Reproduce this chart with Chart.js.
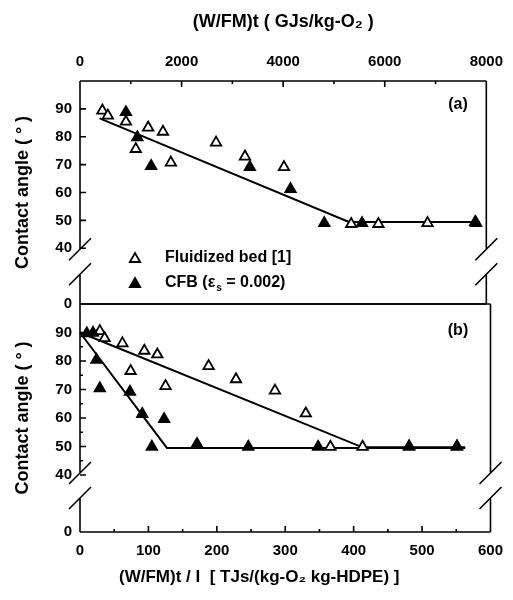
<!DOCTYPE html>
<html>
<head>
<meta charset="utf-8">
<script src="https://cdn.jsdelivr.net/npm/chart.js@4.4.1/dist/chart.umd.min.js"></script>
<style>
  body { margin: 0; background: #fff; }
  #wrap { position: relative; width: 513px; height: 600px; }
  canvas { position: absolute; left: 0; top: 0; }
</style>
</head>
<body>
<div id="wrap">
  <canvas id="chart-a" width="513" height="600"></canvas>
  <canvas id="chart-b" width="513" height="600"></canvas>
</div>
<script>
// panel (a): x in GJs/kg-O2
const bedA_x = [440, 548, 904, 1098, 1342, 1633, 1789, 2679, 3248, 4016, 5340, 5875, 6843, 7800];
const bedA_y = [89.4, 87.6, 85.4, 75.6, 83.3, 81.8, 70.7, 77.9, 72.9, 69.1, 48.7, 48.7, 49.0, 49.0];
const cfbA_x = [904, 1129, 1401, 3345, 4145, 4810, 5553, 7781];
const cfbA_y = [88.8, 79.8, 69.5, 69.1, 61.2, 49.0, 49.0, 49.4];
const fitA_x = [387, 5295, 7876];
const fitA_y = [86.6, 49.4, 49.4];

// panel (b): x in TJs/(kg-O2 kg-HDPE)
const bedB_x = [29, 36, 62, 74, 94, 113, 125, 188, 228, 285, 330, 366, 413, 481, 551];
const bedB_y = [90.5, 88.0, 86.2, 76.5, 83.6, 82.3, 71.2, 78.2, 73.6, 69.6, 61.6, 49.9, 49.9, 50.0, 50.0];
const cfbB_x = [10, 19, 24, 29, 73, 91, 105, 123, 171, 246, 348, 481, 551];
const cfbB_y = [89.7, 89.9, 80.4, 70.4, 69.2, 61.4, 49.9, 59.6, 50.9, 49.9, 49.9, 50.0, 50.0];
const fitBedB_x = [0, 413, 563];
const fitBedB_y = [90, 49.7, 49.7];
const fitCfbB_x = [0, 127, 563];
const fitCfbB_y = [90, 49.5, 49.5];

// broken y axis: value 20 is drawn as "0"
const yTicks = [20, 40, 50, 60, 70, 80, 90];

const FONT = "'Liberation Sans', Arial, sans-serif";
const tickFont = { family: FONT, size: 15, weight: 'bold' };
const titleFont = { family: FONT, size: 17, weight: 'bold' };

const pts = (xs, ys) => xs.map((x, i) => ({ x: x, y: ys[i] }));

function markers(label, xs, ys, fill) {
  return {
    label: label,
    data: pts(xs, ys),
    pointStyle: 'triangle',
    pointRadius: 6,
    pointHoverRadius: 6,
    pointBackgroundColor: fill,
    pointBorderColor: '#000',
    pointBorderWidth: 1.8,
    showLine: false,
    clip: false
  };
}

function fitLine(xs, ys) {
  return {
    data: pts(xs, ys),
    showLine: true,
    borderColor: '#000',
    borderWidth: 2,
    pointRadius: 0,
    clip: false
  };
}

function yScale() {
  return {
    type: 'linear',
    min: 20,
    max: 100,
    afterBuildTicks: s => { s.ticks = yTicks.map(v => ({ value: v })); },
    afterFit: s => { s.width = 80; },
    grid: { display: false, drawTicks: false },
    border: { display: false },
    ticks: { padding: 8, color: '#000', font: tickFont, callback: v => (v === 20 ? '0' : String(v)) },
    title: { display: true, text: 'Contact angle ( ° )', color: '#000', font: { family: FONT, size: 18, weight: 'bold' }, padding: { top: 12, bottom: 0 } }
  };
}

function tri(ctx, x, y, r, fill) {
  ctx.beginPath();
  for (let k = 0; k < 3; k++) {
    const a = -Math.PI / 2 + k * 2 * Math.PI / 3;
    const px = x + Math.cos(a) * r, py = y + Math.sin(a) * r;
    if (k === 0) ctx.moveTo(px, py); else ctx.lineTo(px, py);
  }
  ctx.closePath();
  ctx.fillStyle = fill;
  ctx.fill();
  ctx.lineWidth = 1.8;
  ctx.strokeStyle = '#000';
  ctx.stroke();
}

// frame with axis breaks, inward ticks, panel label
function framePlugin(opt) {
  return {
    id: 'frame' + opt.name,
    beforeDatasetsDraw(chart) {
      const { ctx, chartArea: a, scales } = chart;
      const y = scales.y, x = scales.x;
      const b1 = y.getPixelForValue(40) + opt.breakShift;
      const b2 = b1 + 25;
      ctx.save();
      ctx.strokeStyle = '#000';
      ctx.lineWidth = 1.6;
      ctx.beginPath();
      ctx.moveTo(a.left, a.top); ctx.lineTo(a.right, a.top);
      ctx.moveTo(a.left, a.bottom); ctx.lineTo(a.right, a.bottom);
      [a.left, a.right].forEach(px => {
        ctx.moveTo(px, a.top); ctx.lineTo(px, b1);
        ctx.moveTo(px, b2); ctx.lineTo(px, a.bottom);
        ctx.moveTo(px - 11, b1 + 11); ctx.lineTo(px + 11, b1 - 11);
        ctx.moveTo(px - 11, b2 + 11); ctx.lineTo(px + 11, b2 - 11);
      });
      // y ticks
      for (let v = 40; v <= 90; v += 5) {
        const major = v % 10 === 0;
        if (!major && !opt.yMinor) continue;
        const py = y.getPixelForValue(v);
        ctx.moveTo(a.left, py); ctx.lineTo(a.left + (major ? 6 : 3), py);
      }
      // x ticks
      const ex = opt.xTop ? a.top : a.bottom;
      const dir = opt.xTop ? 1 : -1;
      for (let v = x.min; v <= x.max; v += opt.xMinor) {
        const major = v % opt.xMajor === 0;
        const px = x.getPixelForValue(v);
        ctx.moveTo(px, ex); ctx.lineTo(px, ex + dir * (major ? 6 : 3));
      }
      ctx.stroke();

      ctx.fillStyle = '#000';
      ctx.font = 'bold 16px ' + FONT;
      ctx.textAlign = 'center';
      ctx.textBaseline = 'middle';
      ctx.fillText(opt.name, 458, opt.labelY);
      ctx.restore();
    },
    afterDraw(chart) {
      if (!opt.legend) return;
      const ctx = chart.ctx;
      ctx.save();
      tri(ctx, 135, 259, 6, '#fff');
      tri(ctx, 135, 284, 6, '#000');
      ctx.fillStyle = '#000';
      ctx.font = 'bold 16px ' + FONT;
      ctx.textAlign = 'left';
      ctx.textBaseline = 'middle';
      ctx.fillText('Fluidized bed [1]', 165, 258);
      let tx = 165;
      const part1 = 'CFB (ε';
      ctx.fillText(part1, tx, 283);
      tx += ctx.measureText(part1).width + 1;
      ctx.font = 'bold 10px ' + FONT;
      ctx.fillText('s', tx, 288);
      tx += ctx.measureText('s').width;
      ctx.font = 'bold 16px ' + FONT;
      ctx.fillText(' = 0.002)', tx, 283);
      ctx.restore();
    }
  };
}

const ctxA = document.getElementById('chart-a').getContext('2d');
const chartA = new Chart(ctxA, {
  type: 'scatter',
  data: {
    datasets: [
      markers('CFB (εs = 0.002)', cfbA_x, cfbA_y, '#000'),
      markers('Fluidized bed [1]', bedA_x, bedA_y, '#fff'),
      fitLine(fitA_x, fitA_y)
    ]
  },
  options: {
    responsive: false,
    animation: false,
    layout: { padding: { left: 0, right: 20, top: 0, bottom: 296 } },
    plugins: { legend: { display: false }, tooltip: { enabled: false } },
    scales: {
      x: {
        type: 'linear',
        position: 'top',
        min: 0,
        max: 8000,
        afterFit: s => { s.height = 81; },
        grid: { display: false, drawTicks: false },
        border: { display: false },
        ticks: { stepSize: 2000, padding: 10, color: '#000', font: tickFont, callback: v => String(v) },
        title: { display: true, text: '(W/FM)t ( GJs/kg-O₂ )', color: '#000', font: { family: FONT, size: 18, weight: 'bold' }, padding: { top: 11, bottom: 0 } }
      },
      y: yScale()
    }
  },
  plugins: [framePlugin({ name: '(a)', labelY: 105, breakShift: 1, yMinor: false, xTop: true, xMajor: 2000, xMinor: 1000, legend: true })]
});

const ctxB = document.getElementById('chart-b').getContext('2d');
const chartB = new Chart(ctxB, {
  type: 'scatter',
  data: {
    datasets: [
      markers('CFB (εs = 0.002)', cfbB_x, cfbB_y, '#000'),
      markers('Fluidized bed [1]', bedB_x, bedB_y, '#fff'),
      fitLine(fitBedB_x, fitBedB_y),
      fitLine(fitCfbB_x, fitCfbB_y)
    ]
  },
  options: {
    responsive: false,
    animation: false,
    layout: { padding: { left: 0, right: 21, top: 304, bottom: 0 } },
    plugins: { legend: { display: false }, tooltip: { enabled: false } },
    scales: {
      x: {
        type: 'linear',
        position: 'bottom',
        min: 0,
        max: 600,
        afterFit: s => { s.height = 68; },
        grid: { display: false, drawTicks: false },
        border: { display: false },
        ticks: { stepSize: 100, padding: 10, color: '#000', font: tickFont, callback: v => String(v) },
        // trailing spaces nudge the centred title left, as in the original
        title: { display: true, text: '(W/FM)t / I  [ TJs/(kg-O₂ kg-HDPE) ]' + '\u00a0'.repeat(11), color: '#000', font: titleFont, padding: { top: 0, bottom: 12 } }
      },
      y: yScale()
    }
  },
  plugins: [framePlugin({ name: '(b)', labelY: 331, breakShift: -2, yMinor: true, xTop: false, xMajor: 100, xMinor: 50, legend: false })]
});
</script>
</body>
</html>
